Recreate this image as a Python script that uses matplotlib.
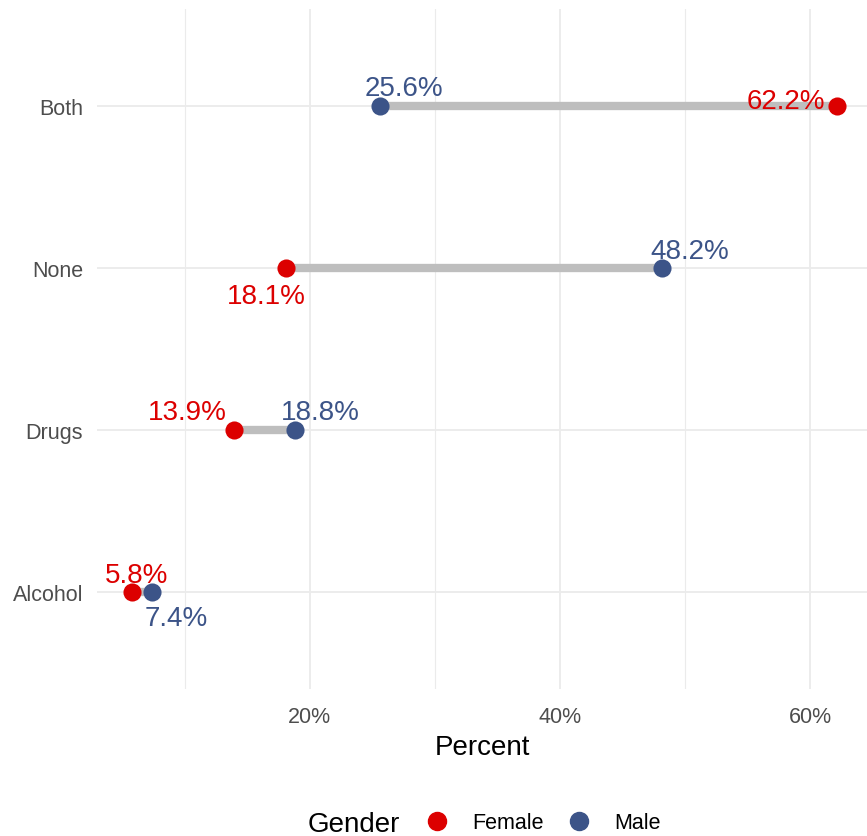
import matplotlib.pyplot as plt
from matplotlib.lines import Line2D
from matplotlib.ticker import FixedLocator, PercentFormatter

plt.rcParams['font.family'] = ['Liberation Sans', 'DejaVu Sans']

# data
categories = ["Alcohol", "Drugs", "None", "Both"]
female = [5.8, 13.9, 18.1, 62.2]
male = [7.4, 18.8, 48.2, 25.6]

# label offsets in pixels (dx, dy), dy positive = up
female_off = [(4, 10), (-46, 11), (-20, -35), (-52, -2)]
male_off = [(24, -33), (25, 11), (27, 10), (24, 11)]

red = "#DC0000"
blue = "#3C5488"

W, H = 867, 837
fig = plt.figure(figsize=(W / 100, H / 100), dpi=100)
ax = fig.add_axes([97 / W, (H - 690) / H, (W - 97) / W, 680 / H])

ypos = list(range(1, len(categories) + 1))

# grid
ax.set_xlim(2.98, 64.56)
ax.set_ylim(0.4, 4.6)
ax.xaxis.set_major_locator(FixedLocator([20, 40, 60]))
ax.xaxis.set_minor_locator(FixedLocator([10, 30, 50]))
ax.xaxis.set_major_formatter(PercentFormatter(decimals=0))
ax.set_yticks(ypos)
ax.set_yticklabels(categories)
ax.grid(True, which="major", color="#EBEBEB", lw=1.3)
ax.grid(True, which="minor", axis="x", color="#EBEBEB", lw=0.8)
ax.set_axisbelow(True)
for s in ax.spines.values():
    s.set_visible(False)
ax.tick_params(which="both", length=0)
ax.tick_params(axis="x", labelsize=15.5, labelcolor="#4D4D4D", pad=12)
ax.tick_params(axis="y", labelsize=15.5, labelcolor="#4D4D4D", pad=10)

# dumbbells
ax.hlines(ypos, female, male, color="#BEBEBE", lw=6, zorder=2)
ax.scatter(female, ypos, s=170, color=red, zorder=3, linewidths=0)
ax.scatter(male, ypos, s=170, color=blue, zorder=3, linewidths=0)

px2pt = 0.72
for i in range(len(categories)):
    for val, off, col in [(female[i], female_off[i], red), (male[i], male_off[i], blue)]:
        ax.annotate(f"{val:.1f}%", (val, ypos[i]),
                    xytext=(off[0] * px2pt, off[1] * px2pt),
                    textcoords="offset points", ha="center", va="baseline",
                    color=col, fontsize=20, zorder=4)

ax.set_xlabel("Percent", fontsize=20, color="black", labelpad=5)

# legend
fig.text(308 / W, 1 - 825 / H, "Gender", fontsize=20, ha="left", va="center")
handles = [Line2D([], [], marker="o", ls="", color=red, markersize=13),
           Line2D([], [], marker="o", ls="", color=blue, markersize=13)]
fig.legend(handles, ["Female", "Male"], loc="center left",
           bbox_to_anchor=(426 / W, 1 - 824 / H), ncol=2, frameon=False,
           fontsize=15.5, handlelength=1.0, handletextpad=1.17,
           columnspacing=1.1, borderpad=0, borderaxespad=0)

fig.savefig("out.png", dpi=100)
